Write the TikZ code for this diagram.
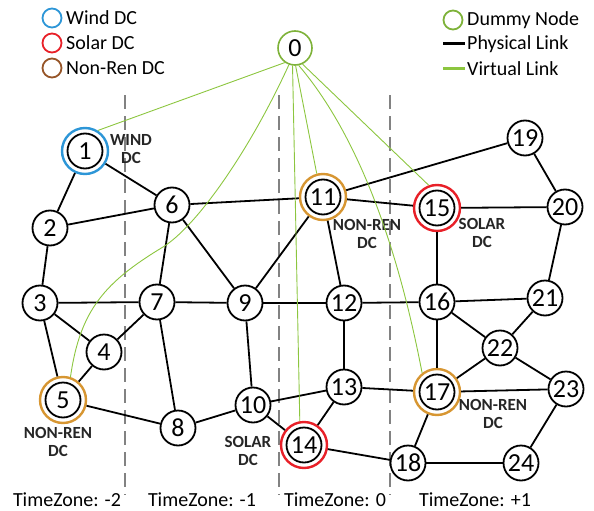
\documentclass[tikz,border=0pt]{standalone}
\usepackage{fontspec}
\setmainfont{Carlito}
\usepackage{tikz}
\definecolor{windblue}{RGB}{45,150,215}
\definecolor{solarred}{RGB}{232,32,40}
\definecolor{nonrenbrown}{RGB}{150,85,40}
\definecolor{nonrenring}{RGB}{215,150,50}
\definecolor{virtgreen}{RGB}{140,198,63}
\definecolor{zonegray}{RGB}{130,130,130}
\tikzset{
    vertex/.style={shape=circle, draw=black, fill=white, line width=1.8pt, minimum size=35pt, inner sep=0pt, font=\fontsize{26}{26}\selectfont},
    dcvertex/.style={shape=circle, draw=#1, fill=white, line width=2.4pt, minimum size=46pt, inner sep=0pt, font=\fontsize{26}{26}\selectfont,
        path picture={\draw[black, line width=1.8pt] (path picture bounding box.center) circle (17.5pt);}},
    dummy/.style={shape=circle, draw=virtgreen!90!black, fill=white, line width=1.6pt, minimum size=34pt, inner sep=0pt, font=\fontsize{26}{26}\selectfont},
    phys/.style={black, line width=1.8pt},
    virt/.style={virtgreen, line width=0.9pt},
    dctext/.style={font=\fontsize{17}{18}\selectfont\bfseries, align=center, text=black!85},
    zone/.style={zonegray, line width=1.3pt, dash pattern=on 14pt off 7pt},
    zonetext/.style={font=\fontsize{20}{20}\selectfont},
    legendtext/.style={font=\fontsize{20}{20}\selectfont, anchor=west, inner sep=0pt},
    legendring/.style={shape=circle, draw=#1, line width=1.8pt, minimum size=19pt, inner sep=0pt}
}

\begin{document}
\begin{tikzpicture}[x=1pt, y=-1pt]
    \useasboundingbox (0,0) rectangle (594,511);

    % time zone borders
    \draw[zone] (125,95) -- (125,495);
    \draw[zone] (279,95) -- (279,495);
    \draw[zone] (390,95) -- (390,495);

    \node[zonetext] (tzA) at (67,500) {TimeZone: -2};
    \node[zonetext] (tzB) at (202,500) {TimeZone: -1};
    \node[zonetext] (tzC) at (335,500) {TimeZone: 0};
    \node[zonetext] (tzD) at (475,500) {TimeZone: +1};

    % legend
    \node[legendring=windblue] (lgW) at (52,18) {};
    \node[legendring=solarred] (lgS) at (52,43) {};
    \node[legendring=nonrenbrown] (lgN) at (52,68) {};
    \node[legendtext] (lgWt) at (66,18) {Wind DC};
    \node[legendtext] (lgSt) at (66,43) {Solar DC};
    \node[legendtext] (lgNt) at (66,68) {Non-Ren DC};
    \node[legendring=virtgreen!90!black] (lgD) at (453,20) {};
    \draw[black, line width=3pt] (443,44) -- (465,44);
    \draw[virtgreen, line width=3pt] (443,69) -- (465,69);
    \node[legendtext] (lgDt) at (467,20) {Dummy Node};
    \node[legendtext] (lgPt) at (467,44) {Physical Link};
    \node[legendtext] (lgVt) at (467,69) {Virtual Link};

    % nodes
    \node[dummy] (N0) at (295,48) {0};
    \node[dcvertex=windblue] (N1) at (85,151) {1};
    \node[vertex] (N2) at (50,228) {2};
    \node[vertex] (N3) at (40,303) {3};
    \node[vertex] (N4) at (104,352) {4};
    \node[dcvertex=nonrenring] (N5) at (63,400) {5};
    \node[vertex] (N6) at (172,205) {6};
    \node[vertex] (N7) at (157,302) {7};
    \node[vertex] (N8) at (178,428) {8};
    \node[vertex] (N9) at (245,303) {9};
    \node[vertex] (N10) at (253,405) {10};
    \node[dcvertex=nonrenring] (N11) at (323,197) {11};
    \node[vertex] (N12) at (344,303) {12};
    \node[vertex] (N13) at (344,387) {13};
    \node[dcvertex=solarred] (N14) at (304,445) {14};
    \node[dcvertex=solarred] (N15) at (437,208) {15};
    \node[vertex] (N16) at (437,302) {16};
    \node[dcvertex=nonrenring] (N17) at (437,392) {17};
    \node[vertex] (N18) at (408,463) {18};
    \node[vertex] (N19) at (525,138) {19};
    \node[vertex] (N20) at (565,207) {20};
    \node[vertex] (N21) at (545,298) {21};
    \node[vertex] (N22) at (500,348) {22};
    \node[vertex] (N23) at (566,389) {23};
    \node[vertex] (N24) at (521,463) {24};

    % DC labels
    \node[dctext] (lb1) at (131,149) {WIND\\DC};
    \node[dctext] (lb5) at (58,442) {NON-REN\\DC};
    \node[dctext] (lb11) at (367,234) {NON-REN\\DC};
    \node[dctext] (lb14) at (248,451) {SOLAR\\DC};
    \node[dctext] (lb15) at (482,233) {SOLAR\\DC};
    \node[dctext] (lb17) at (493,414) {NON-REN\\DC};

    % physical links
    \draw[phys] (N1) -- (N2);
    \draw[phys] (N1) -- (N6);
    \draw[phys] (N2) -- (N6);
    \draw[phys] (N2) -- (N3);
    \draw[phys] (N3) -- (N7);
    \draw[phys] (N3) -- (N4);
    \draw[phys] (N3) -- (N5);
    \draw[phys] (N4) -- (N7);
    \draw[phys] (N4) -- (N5);
    \draw[phys] (N5) -- (N8);
    \draw[phys] (N6) -- (N7);
    \draw[phys] (N6) -- (N9);
    \draw[phys] (N6) -- (N11);
    \draw[phys] (N7) -- (N9);
    \draw[phys] (N7) -- (N8);
    \draw[phys] (N8) -- (N10);
    \draw[phys] (N9) -- (N10);
    \draw[phys] (N9) -- (N11);
    \draw[phys] (N9) -- (N12);
    \draw[phys] (N10) -- (N13);
    \draw[phys] (N10) -- (N14);
    \draw[phys] (N11) -- (N19);
    \draw[phys] (N11) -- (N15);
    \draw[phys] (N11) -- (N12);
    \draw[phys] (N12) -- (N16);
    \draw[phys] (N12) -- (N13);
    \draw[phys] (N13) -- (N14);
    \draw[phys] (N13) -- (N17);
    \draw[phys] (N14) -- (N18);
    \draw[phys] (N15) -- (N20);
    \draw[phys] (N15) -- (N16);
    \draw[phys] (N16) -- (N21);
    \draw[phys] (N16) -- (N22);
    \draw[phys] (N16) -- (N17);
    \draw[phys] (N17) -- (N22);
    \draw[phys] (N17) -- (N23);
    \draw[phys] (N17) -- (N18);
    \draw[phys] (N18) -- (N24);
    \draw[phys] (N19) -- (N20);
    \draw[phys] (N20) -- (N21);
    \draw[phys] (N21) -- (N22);
    \draw[phys] (N22) -- (N23);
    \draw[phys] (N23) -- (N24);

    % virtual links
    \coordinate (bend5) at (163,247);
    \draw[virt] (N0.235) -- (N1.58);
    \draw[virt] (N0.250) .. controls (250,150) and (197,226) .. (bend5)
        .. controls (105,282) and (80,310) .. (N5.72);
    \draw[virt] (N0.262) -- (N14.100);
    \draw[virt] (N0.272) -- (N11.105);
    \draw[virt] (N0.282) .. controls (375,155) and (408,300) .. (N17.128);
    \draw[virt] (N0.295) -- (N15.110);

\end{tikzpicture}
\end{document}
